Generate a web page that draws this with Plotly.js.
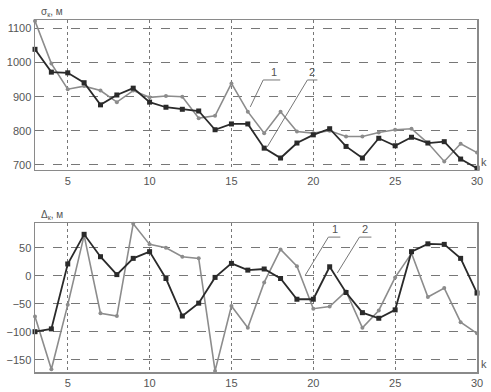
<!DOCTYPE html>
<html>
<head>
<meta charset="utf-8">
<script src="https://cdn.plot.ly/plotly-3.0.1.min.js"></script>
<style>html,body{margin:0;padding:0;background:#fff;}#chart{width:491px;height:392px;}</style>
</head>
<body>
<div id="chart"></div>
<script>
var k = [3,4,5,6,7,8,9,10,11,12,13,14,15,16,17,18,19,20,21,22,23,24,25,26,27,28,29,30];
// upper panel: sigma_k, m
var sigma1 = [1122,997,922,931,918,884,918,898,902,900,837,844,939,856,793,856,798,793,800,783,783,795,803,806,764,710,762,736];
var sigma2 = [1039,972,970,941,876,905,925,884,869,863,858,803,820,820,749,720,764,788,806,754,720,778,756,781,764,768,717,690];
// lower panel: Delta_k, m
var delta1 = [-73,-167,-52,72,-67,-72,93,56,50,34,31,-170,-54,-93,-12,47,17,-59,-55,-28,-93,-62,-3,40,-38,-22,-83,-103];
var delta2 = [-100,-95,21,74,34,2,31,43,-5,-72,-49,-3,22,10,12,-5,-42,-42,16,-30,-66,-76,-61,43,57,56,31,-31];
var xTicks = [5,10,15,20,25,30];
var sigmaTicks = [700,800,900,1000,1100];
var deltaTicks = [-150,-100,-50,0,50];

var grayC = '#8c8c8c', darkC = '#2a2a2a';
function tr(y, xa, ya, col, sym, sz, w){
  return {x:k, y:y, xaxis:xa, yaxis:ya, mode:'lines+markers', cliponaxis:false,
    line:{color:col, width:w}, marker:{color:col, symbol:sym, size:sz}, showlegend:false, hoverinfo:'none'};
}
var data = [
  tr(sigma1,'x','y',grayC,'circle',4,1.6),
  tr(sigma2,'x','y',darkC,'square',5,1.8),
  tr(delta1,'x2','y2',grayC,'circle',4,1.6),
  tr(delta2,'x2','y2',darkC,'square',5,1.8)
];
var fnt = {family:'Liberation Sans, Arial, sans-serif', size:11, color:'#555555'};
function xax(anchor){
  return {domain:[0,1], anchor:anchor, range:[3,30], tickvals:xTicks, ticks:'', showline:true, mirror:true,
    linecolor:'#8a8a8a', linewidth:1.5, showgrid:true, gridcolor:'#777', griddash:'dot', gridwidth:1,
    zeroline:false, tickfont:fnt};
}
function yax(anchor, dom, rng, tv){
  return {domain:dom, anchor:anchor, range:rng, tickvals:tv, ticks:'', showline:true, mirror:true,
    linecolor:'#8a8a8a', linewidth:1.5, showgrid:true, gridcolor:'#777', griddash:'dash', gridwidth:1,
    zeroline:false, tickfont:fnt};
}
var leadC = '#777';
var labFont = {family:'Liberation Sans, Arial, sans-serif', size:11, color:'#555555'};
var layout = {
  width:491, height:392,
  margin:{l:35, r:14, t:20, b:20},
  paper_bgcolor:'#fff', plot_bgcolor:'#fff',
  xaxis: xax('y'),
  yaxis: yax('x',[0.574,1],[685,1125],sigmaTicks),
  xaxis2: xax('y2'),
  yaxis2: yax('x2',[0,0.423],[-172,94],deltaTicks),
  shapes:[
    {type:'path', xref:'x', yref:'y', path:'M16.15,870 L16.94,949 L17.98,949', line:{color:leadC,width:1}},
    {type:'path', xref:'x', yref:'y', path:'M17.19,753 L19.64,949 L20.25,949', line:{color:leadC,width:1}},
    {type:'path', xref:'x2', yref:'y2', path:'M19.51,1 L20.92,69 L21.65,69', line:{color:leadC,width:1}},
    {type:'path', xref:'x2', yref:'y2', path:'M21.47,5 L22.82,69 L23.55,69', line:{color:leadC,width:1}}
  ],
  annotations:[
    {xref:'x', yref:'y', x:17.6, y:949, text:'1', showarrow:false, yanchor:'bottom', font:labFont},
    {xref:'x', yref:'y', x:19.95, y:949, text:'2', showarrow:false, yanchor:'bottom', font:labFont},
    {xref:'x2', yref:'y2', x:21.3, y:69, text:'1', showarrow:false, yanchor:'bottom', font:labFont},
    {xref:'x2', yref:'y2', x:23.15, y:69, text:'2', showarrow:false, yanchor:'bottom', font:labFont},
    {xref:'paper', yref:'paper', x:0.01, y:1.0, xanchor:'left', yanchor:'bottom', text:'σ<sub>к</sub>, м', showarrow:false, font:{family:fnt.family,size:10,color:'#555555'}},
    {xref:'paper', yref:'paper', x:0.01, y:0.423, xanchor:'left', yanchor:'bottom', text:'Δ<sub>к</sub>, м', showarrow:false, font:{family:fnt.family,size:10,color:'#555555'}},
    {xref:'paper', yref:'paper', x:1.005, y:0.574, xanchor:'left', yanchor:'bottom', text:'k', showarrow:false, font:labFont},
    {xref:'paper', yref:'paper', x:1.005, y:0.0, xanchor:'left', yanchor:'bottom', text:'k', showarrow:false, font:labFont}
  ]
};
Plotly.newPlot('chart', data, layout, {staticPlot:true, displayModeBar:false});
</script>
</body>
</html>
